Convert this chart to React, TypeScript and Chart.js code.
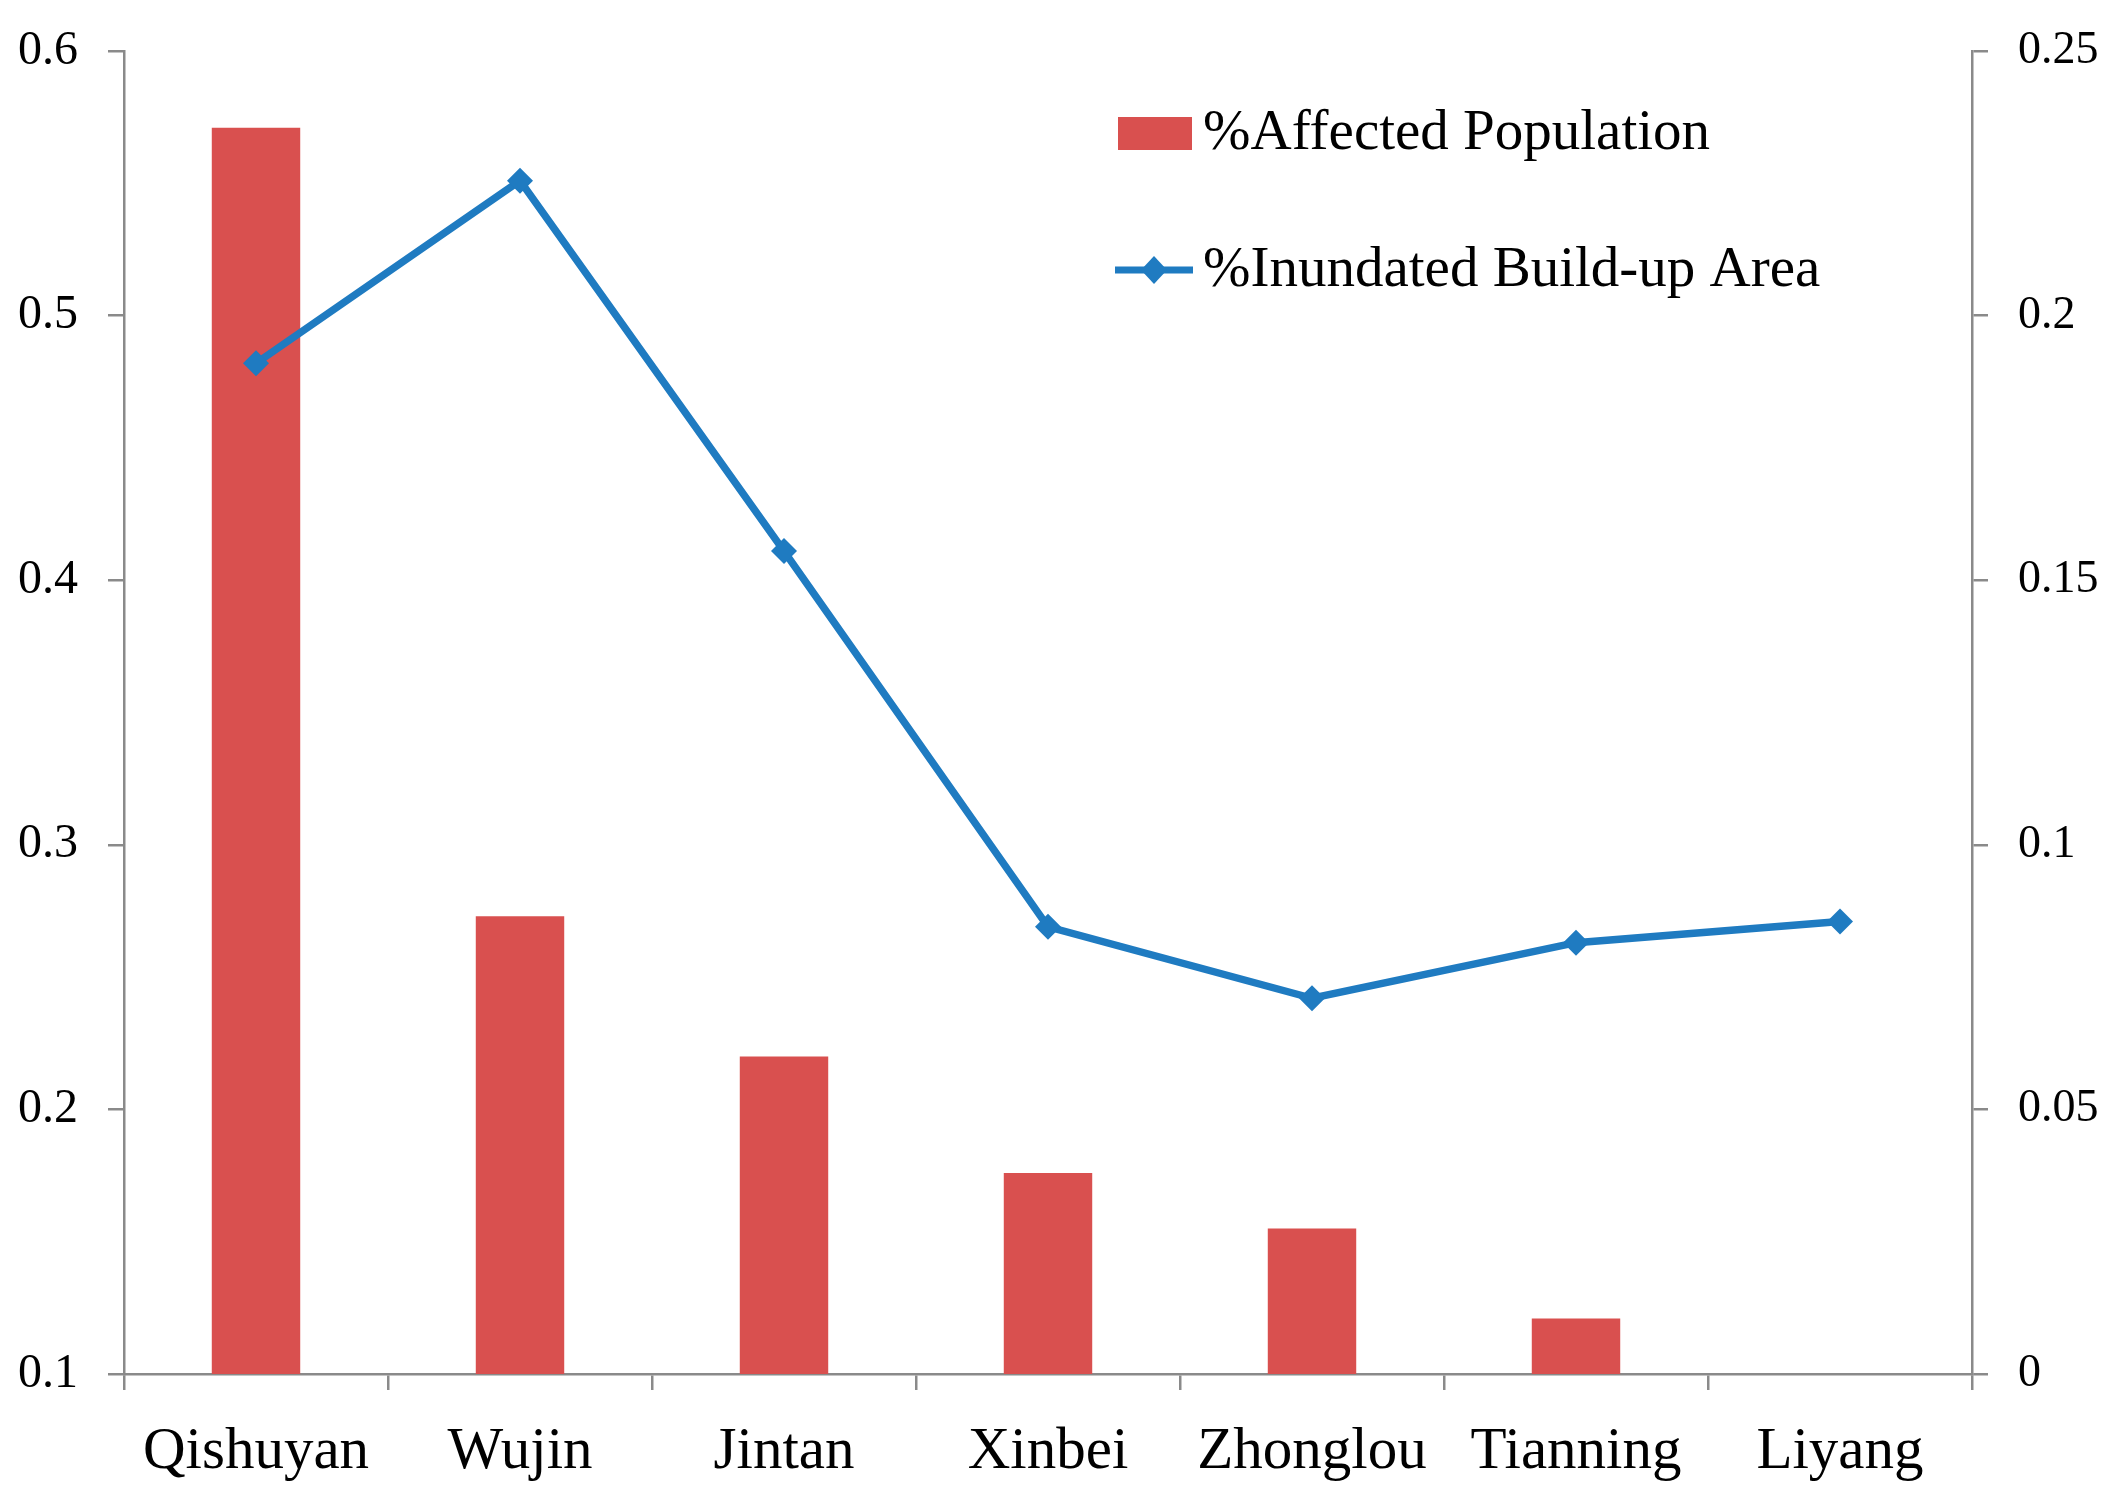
import React, { useEffect, useRef } from "react";
import { Chart, registerables } from "chart.js";

Chart.register(...registerables);

const categories = ["Qishuyan", "Wujin", "Jintan", "Xinbei", "Zhonglou", "Tianning", "Liyang"];
const affectedPopulation: (number | null)[] = [0.571, 0.273, 0.22, 0.176, 0.155, 0.121, null];
const inundatedBuildUpArea = [0.191, 0.2255, 0.1555, 0.0845, 0.071, 0.0815, 0.0855];
const leftAxisRange = [0.1, 0.6, 0.1];
const rightAxisRange = [0, 0.25, 0.05];
const seriesNames = ["%Affected Population", "%Inundated Build-up Area"];

const RED = "#D9504F";
const BLUE = "#1F7BC1";
const AXIS = "#8A8A8A";
const FONT = '"Liberation Serif", "Times New Roman", serif';

const legendPlugin = {
  id: "customLegend",
  afterDraw(chart: any) {
    const ctx = chart.ctx;
    ctx.save();
    ctx.font = `57px ${FONT}`;
    ctx.textBaseline = "middle";
    ctx.textAlign = "left";
    // bar entry
    ctx.fillStyle = RED;
    ctx.fillRect(1118, 117, 74, 33);
    ctx.fillStyle = "#000";
    ctx.fillText(seriesNames[0], 1203, 134);
    // line entry
    ctx.strokeStyle = BLUE;
    ctx.lineWidth = 7;
    ctx.beginPath();
    ctx.moveTo(1115, 270);
    ctx.lineTo(1193, 270);
    ctx.stroke();
    ctx.fillStyle = BLUE;
    ctx.beginPath();
    ctx.moveTo(1154, 256);
    ctx.lineTo(1167, 270);
    ctx.lineTo(1154, 284);
    ctx.lineTo(1141, 270);
    ctx.closePath();
    ctx.fill();
    ctx.fillStyle = "#000";
    ctx.fillText(seriesNames[1], 1203, 271);
    ctx.restore();
  },
};

export default function App() {
  const ref = useRef<HTMLCanvasElement>(null);
  useEffect(() => {
    document.body.style.margin = "0";
    const canvas = ref.current!;
    const chart = new Chart(canvas, {
      type: "bar",
      data: {
        labels: categories,
        datasets: [
          {
            type: "line",
            label: seriesNames[1],
            data: inundatedBuildUpArea,
            yAxisID: "y2",
            borderColor: BLUE,
            backgroundColor: BLUE,
            borderWidth: 7.5,
            pointStyle: "rectRot",
            pointRadius: 13,
            pointBackgroundColor: BLUE,
            pointBorderWidth: 0,
            tension: 0,
            order: 0,
          } as any,
          {
            type: "bar",
            label: seriesNames[0],
            data: affectedPopulation,
            yAxisID: "y",
            backgroundColor: RED,
            borderWidth: 0,
            categoryPercentage: 1,
            barPercentage: 0.335,
            order: 1,
          } as any,
        ],
      },
      options: {
        responsive: false,
        animation: false,
        layout: { padding: { top: 51, left: 0, right: 0, bottom: 0 } },
        plugins: {
          legend: { display: false },
          tooltip: { enabled: false },
        },
        scales: {
          x: {
            type: "category",
            offset: true,
            grid: {
              offset: true,
              drawOnChartArea: false,
              color: AXIS,
              lineWidth: 2.5,
              tickLength: 16,
            },
            border: { color: AXIS, width: 2.5 },
            ticks: {
              color: "#000",
              font: { family: FONT, size: 59 },
              padding: 27,
              maxRotation: 0,
              autoSkip: false,
            },
            afterFit(scale: any) {
              scale.height = 136;
              scale.paddingLeft = 0;
              scale.paddingRight = 0;
            },
          },
          y: {
            type: "linear",
            position: "left",
            min: leftAxisRange[0],
            max: leftAxisRange[1],
            ticks: {
              stepSize: leftAxisRange[2],
              color: "#000",
              font: { family: FONT, size: 48 },
              padding: 30,
              callback: (v: any) => String(Number(Number(v).toFixed(2))),
            },
            grid: {
              drawOnChartArea: false,
              color: AXIS,
              lineWidth: 2.5,
              tickLength: 16,
            },
            border: { color: AXIS, width: 2.5 },
            afterFit(scale: any) {
              scale.width = 124;
              scale.paddingTop = 0;
              scale.paddingBottom = 0;
            },
          },
          y2: {
            type: "linear",
            position: "right",
            min: rightAxisRange[0],
            max: rightAxisRange[1],
            ticks: {
              stepSize: rightAxisRange[2],
              color: "#000",
              font: { family: FONT, size: 46 },
              padding: 30,
              callback: (v: any) => String(Number(Number(v).toFixed(2))),
            },
            grid: {
              drawOnChartArea: false,
              color: AXIS,
              lineWidth: 2.5,
              tickLength: 16,
            },
            border: { color: AXIS, width: 2.5 },
            afterFit(scale: any) {
              scale.width = 148;
              scale.paddingTop = 0;
              scale.paddingBottom = 0;
            },
          },
        },
      },
      plugins: [legendPlugin],
    });
    return () => chart.destroy();
  }, []);
  return (
    <div style={{ width: 2120, height: 1510, background: "#fff" }}>
      <canvas ref={ref} width={2120} height={1510} style={{ display: "block" }} />
    </div>
  );
}
